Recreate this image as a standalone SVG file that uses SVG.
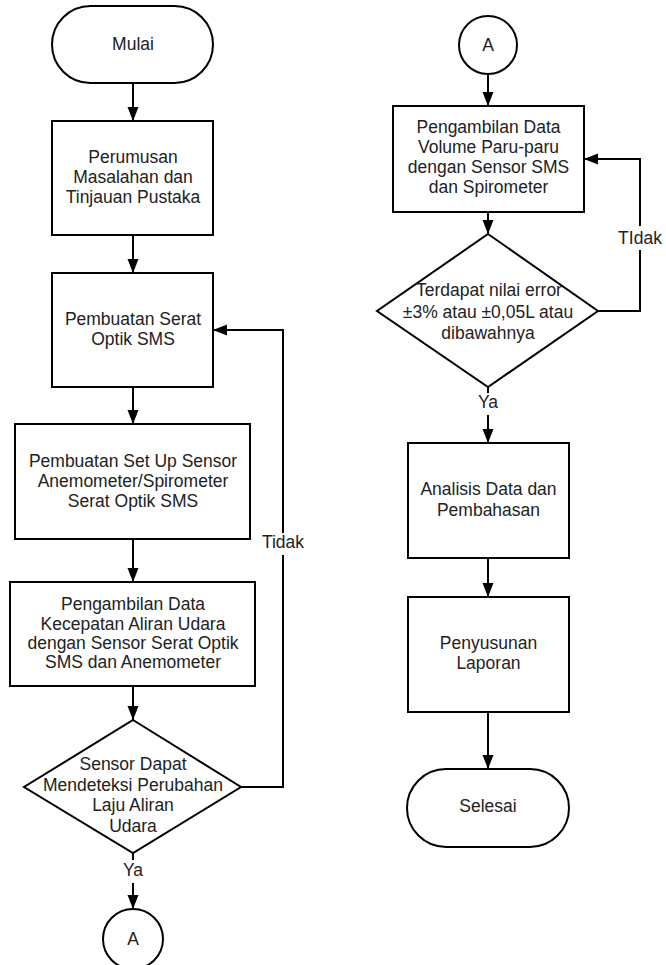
<svg xmlns="http://www.w3.org/2000/svg" width="666" height="965" viewBox="0 0 666 965">
<defs>
<marker id="ah" markerUnits="userSpaceOnUse" markerWidth="14" markerHeight="12" refX="14" refY="5.5" orient="auto">
<path d="M0,0 L14,5.5 L0,11 z" fill="#000"/>
</marker>
<style>
.n{fill:#fff;stroke:#000;stroke-width:2}
.t{font-family:"Liberation Sans",Arial,sans-serif;font-size:17.5px;fill:#222;text-anchor:middle}
.c{fill:none;stroke:#000;stroke-width:2}
</style>
</defs>
<rect width="666" height="965" fill="#fff"/>
<g id="connectors">
<path class="c" d="M133 83 V121" marker-end="url(#ah)"/>
<path class="c" d="M133 235 V273" marker-end="url(#ah)"/>
<path class="c" d="M133 387 V424" marker-end="url(#ah)"/>
<path class="c" d="M133 539 V582" marker-end="url(#ah)"/>
<path class="c" d="M133 686 V720" marker-end="url(#ah)"/>
<path class="c" d="M133 853 V860"/>
<path class="c" d="M133 883 V909" marker-end="url(#ah)"/>
<path class="c" d="M241 787 H283 V555 M283 533 V330 H213" marker-end="url(#ah)"/>
<path class="c" d="M488 74 V106" marker-end="url(#ah)"/>
<path class="c" d="M488 212 V234" marker-end="url(#ah)"/>
<path class="c" d="M488 387 V393"/>
<path class="c" d="M488 415 V443" marker-end="url(#ah)"/>
<path class="c" d="M488 558 V597" marker-end="url(#ah)"/>
<path class="c" d="M488 712 V769" marker-end="url(#ah)"/>
<path class="c" d="M598 311 H640 V250 M640 226 V159 H584" marker-end="url(#ah)"/>
<text class="t" x="283" y="548">Tidak</text>
<text class="t" x="133" y="876">Ya</text>
<text class="t" x="640" y="244">TIdak</text>
<text class="t" x="488" y="408">Ya</text>
</g>
<g id="mulai">
<rect class="n" x="52" y="6" width="161" height="77" rx="38.5"/>
<text class="t" x="133" y="50">Mulai</text>
</g>
<g id="perumusan">
<rect class="n" x="52" y="121" width="161" height="114"/>
<text class="t" x="133" y="163">Perumusan</text>
<text class="t" x="133" y="183">Masalahan dan</text>
<text class="t" x="133" y="203">Tinjauan Pustaka</text>
</g>
<g id="pembuatan-serat">
<rect class="n" x="52" y="273" width="161" height="114"/>
<text class="t" x="133" y="325">Pembuatan Serat</text>
<text class="t" x="133" y="345">Optik SMS</text>
</g>
<g id="setup">
<rect class="n" x="15" y="424" width="235" height="115"/>
<text class="t" x="133" y="467">Pembuatan Set Up Sensor</text>
<text class="t" x="133" y="487">Anemometer/Spirometer</text>
<text class="t" x="133" y="507">Serat Optik SMS</text>
</g>
<g id="pengambilan-kecepatan">
<rect class="n" x="10" y="582" width="245" height="104"/>
<text class="t" x="133" y="610">Pengambilan Data</text>
<text class="t" x="133" y="630">Kecepatan Aliran Udara</text>
<text class="t" x="133" y="649">dengan Sensor Serat Optik</text>
<text class="t" x="133" y="668">SMS dan Anemometer</text>
</g>
<g id="decision-sensor">
<polygon class="n" points="133,720 241,787 133,853 24,787"/>
<text class="t" x="133" y="770">Sensor Dapat</text>
<text class="t" x="133" y="791">Mendeteksi Perubahan</text>
<text class="t" x="133" y="811">Laju Aliran</text>
<text class="t" x="133" y="832">Udara</text>
</g>
<g id="connector-a-left">
<circle class="n" cx="133" cy="939" r="30"/>
<text class="t" x="133" y="945">A</text>
</g>
<g id="connector-a-right">
<circle class="n" cx="488" cy="45" r="29"/>
<text class="t" x="488" y="51">A</text>
</g>
<g id="pengambilan-volume">
<rect class="n" x="393" y="106" width="191" height="106"/>
<text class="t" x="488.5" y="133">Pengambilan Data</text>
<text class="t" x="488.5" y="153">Volume Paru-paru</text>
<text class="t" x="488.5" y="173">dengan Sensor SMS</text>
<text class="t" x="488.5" y="193">dan Spirometer</text>
</g>
<g id="decision-error">
<polygon class="n" points="488,234 598,311 488,387 377,311"/>
<text class="t" x="489" y="296">Terdapat nilai error</text>
<text class="t" x="488" y="318">±3% atau ±0,05L atau</text>
<text class="t" x="488" y="339">dibawahnya</text>
</g>
<g id="analisis">
<rect class="n" x="408" y="443" width="161" height="115"/>
<text class="t" x="488.5" y="495">Analisis Data dan</text>
<text class="t" x="488.5" y="516">Pembahasan</text>
</g>
<g id="penyusunan">
<rect class="n" x="408" y="597" width="161" height="115"/>
<text class="t" x="488.5" y="649">Penyusunan</text>
<text class="t" x="488.5" y="669">Laporan</text>
</g>
<g id="selesai">
<rect class="n" x="407" y="769" width="162" height="78" rx="39"/>
<text class="t" x="488" y="812">Selesai</text>
</g>
</svg>
